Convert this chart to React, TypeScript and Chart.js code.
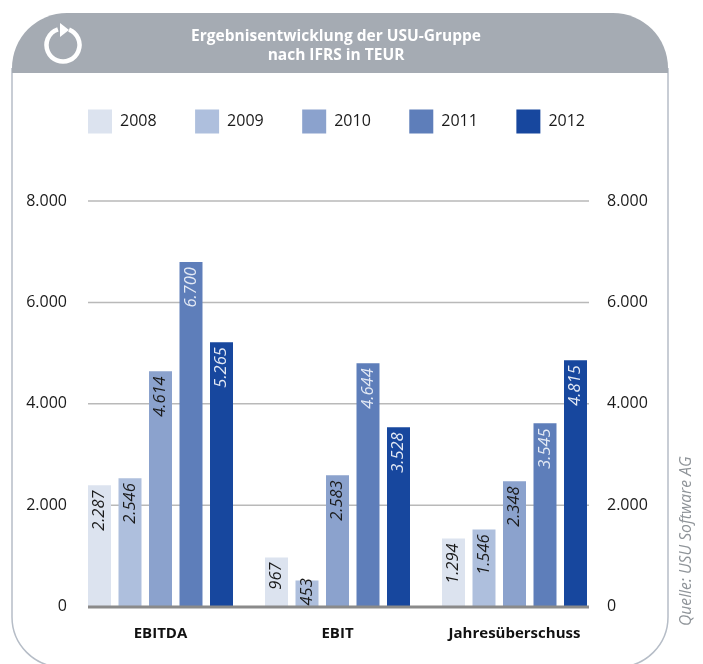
import React, { useEffect, useRef } from "react";
import { Chart, registerables } from "chart.js";

Chart.register(...registerables);

const categories = ["EBITDA", "EBIT", "Jahresüberschuss"];
const years = ["2008", "2009", "2010", "2011", "2012"];
// Bar heights as drawn in the picture
const bars2008 = [2390, 968, 1343];
const bars2009 = [2530, 513, 1521];
const bars2010 = [4640, 2588, 2470];
const bars2011 = [6795, 4800, 3615];
const bars2012 = [5215, 3536, 4859];
// Values as printed on the bars
const printed2008 = ["2.287", "967", "1.294"];
const printed2009 = ["2.546", "453", "1.546"];
const printed2010 = ["4.614", "2.583", "2.348"];
const printed2011 = ["6.700", "4.644", "3.545"];
const printed2012 = ["5.265", "3.528", "4.815"];
const yTickLabels = ["0", "2.000", "4.000", "6.000", "8.000"];
const titleLines = ["Ergebnisentwicklung der USU-Gruppe", "nach IFRS in TEUR"];
const sourceNote = "Quelle: USU Software AG";

const barSeries = [bars2008, bars2009, bars2010, bars2011, bars2012];
const printedSeries = [printed2008, printed2009, printed2010, printed2011, printed2012];
const colors = ["#dce3ef", "#aebfdd", "#8ba2cd", "#5e7eba", "#17479e"];
const labelColors = ["#1a1a1a", "#1a1a1a", "#1a1a1a", "#e4eaf5", "#e4eaf5"];
const FONT = '"Open Sans", sans-serif';

const framePlugin = {
  id: "frame",
  afterLayout(chart: any) {
    if (chart.legend) {
      chart.legend.left = 88 - 38.5;
      chart.legend.right = 700;
      chart.legend.top = 109.5 - 38.5;
    }
    if (chart.titleBlock) {
      chart.titleBlock.left = 136;
      chart.titleBlock.right = 536;
      chart.titleBlock.top = 27;
    }
  },
  beforeDraw(chart: any) {
    const c = chart.ctx;
    const [l, r, t, hb, b] = [12, 668, 13, 73, 667];
    const rad = 55;
    const rb = 50;
    c.save();
    c.fillStyle = "#ffffff";
    c.strokeStyle = "#b6bdc7";
    c.lineWidth = 1.5;
    c.beginPath();
    c.moveTo(l, t + rad);
    c.lineTo(l, b - rb);
    c.arc(l + rb, b - rb, rb, Math.PI, Math.PI / 2, true);
    c.lineTo(r - rb, b);
    c.arc(r - rb, b - rb, rb, Math.PI / 2, 0, true);
    c.lineTo(r, t + rad);
    c.stroke();
    c.fillStyle = "#a5abb3";
    c.beginPath();
    c.moveTo(l, hb);
    c.lineTo(l, t + rad);
    c.arc(l + rad, t + rad, rad, Math.PI, Math.PI * 1.5);
    c.lineTo(r - rad, t);
    c.arc(r - rad, t + rad, rad, Math.PI * 1.5, 0);
    c.lineTo(r, hb);
    c.closePath();
    c.fill();
    // icon
    c.strokeStyle = "#ffffff";
    c.lineWidth = 4.5;
    c.beginPath();
    c.arc(63, 45, 16.5, -Math.PI * 0.38, -Math.PI * 0.6);
    c.stroke();
    c.fillStyle = "#ffffff";
    c.beginPath();
    c.moveTo(60, 23);
    c.lineTo(69, 30);
    c.lineTo(60, 37);
    c.closePath();
    c.fill();
    // source note
    c.translate(687, 626);
    c.rotate(-Math.PI / 2);
    c.font = `italic 15.7px ${FONT}`;
    c.fillStyle = "#8f9499";
    c.textAlign = "left";
    c.textBaseline = "middle";
    c.fillText(sourceNote, 0, 0);
    c.restore();
  },
  beforeDatasetsDraw(chart: any) {
    const c = chart.ctx;
    const y = chart.scales.y;
    c.save();
    c.strokeStyle = "#b9b9b9";
    c.lineWidth = 1.5;
    y.ticks.forEach((tick: any) => {
      if (tick.value === 0) return;
      const py = y.getPixelForValue(tick.value);
      c.beginPath();
      c.moveTo(88, py);
      c.lineTo(589, py);
      c.stroke();
    });
    c.restore();
  },
  afterDatasetsDraw(chart: any) {
    const c = chart.ctx;
    const y = chart.scales.y;
    const base = y.getPixelForValue(0);
    c.save();
    c.strokeStyle = "#8a8a8a";
    c.lineWidth = 3;
    c.beginPath();
    c.moveTo(88, base + 0.5);
    c.lineTo(589, base + 0.5);
    c.stroke();
    printedSeries.forEach((texts, ds) => {
      chart.getDatasetMeta(ds).data.forEach((bar: any, i: number) => {
        c.save();
        c.font = `italic 16.5px ${FONT}`;
        const textLength = c.measureText(texts[i]).width;
        // Keep the label above the baseline when the bar is short
        const start = Math.min(bar.y + 5, base - 1 - textLength);
        c.translate(bar.x, start);
        c.rotate(-Math.PI / 2);
        c.fillStyle = labelColors[ds];
        c.textAlign = "right";
        c.textBaseline = "middle";
        c.fillText(texts[i], 0, 0);
        c.restore();
      });
    });
    c.restore();
  },
};

export default function App() {
  const ref = useRef<HTMLCanvasElement>(null);
  useEffect(() => {
    const chart = new Chart(ref.current as HTMLCanvasElement, {
      type: "bar",
      data: {
        labels: categories,
        datasets: years.map((year, i) => ({
          label: year,
          data: barSeries[i],
          backgroundColor: colors[i],
          borderWidth: 0,
          yAxisID: "y",
          categoryPercentage: 0.8616,
          barPercentage: 0.754,
        })),
      },
      options: {
        responsive: false,
        animation: false,
        layout: { padding: { top: 89.8 } },
        plugins: {
          tooltip: { enabled: false },
          title: {
            display: true,
            text: titleLines,
            color: "#ffffff",
            padding: 0,
            font: { family: FONT, size: 15.5, weight: "bold", lineHeight: 1.25 },
          },
          legend: {
            display: true,
            align: "start",
            labels: {
              boxWidth: 24,
              boxHeight: 24,
              padding: 38.5,
              color: "#1a1a1a",
              font: { family: FONT, size: 16 },
            },
          },
        },
        scales: {
          x: {
            afterFit: (s: any) => { s.height = 57.5; },
            grid: { display: false, drawTicks: false },
            border: { display: false },
            ticks: {
              color: "#111111",
              padding: 18,
              maxRotation: 0,
              minRotation: 0,
              autoSkip: false,
              font: { family: FONT, size: 15, weight: "bold" },
            },
          },
          y: {
            position: "left",
            min: 0,
            max: 8000,
            afterFit: (s: any) => { s.width = 72; },
            grid: { display: false, drawTicks: false },
            border: { display: false },
            ticks: {
              stepSize: 2000,
              padding: 5,
              color: "#1a1a1a",
              font: { family: FONT, size: 16 },
              callback: (_v: any, i: number) => yTickLabels[i],
            },
          },
          y2: {
            position: "right",
            min: 0,
            max: 8000,
            afterFit: (s: any) => { s.width = 100; },
            grid: { display: false, drawTicks: false },
            border: { display: false },
            ticks: {
              stepSize: 2000,
              padding: 4,
              color: "#1a1a1a",
              font: { family: FONT, size: 16 },
              callback: (_v: any, i: number) => yTickLabels[i],
            },
          },
        },
      } as any,
      plugins: [framePlugin],
    });
    return () => chart.destroy();
  }, []);
  return (
    <div style={{ position: "absolute", left: 0, top: 0, width: 703, height: 664, background: "#fff" }}>
      <canvas ref={ref} width={703} height={664} style={{ display: "block" }} />
    </div>
  );
}
